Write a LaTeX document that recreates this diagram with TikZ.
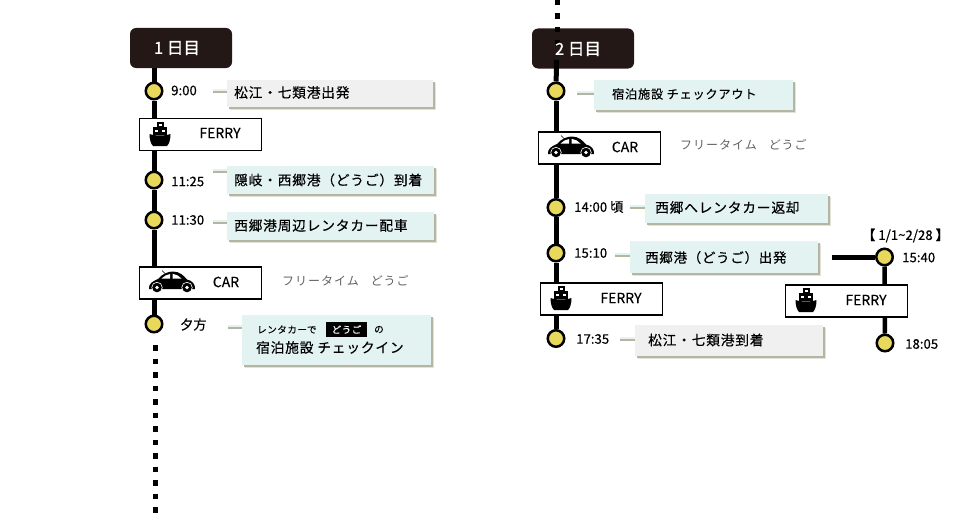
\documentclass[tikz,border=0pt]{standalone}
\usepackage{fontspec}
\setmainfont{Noto Sans CJK JP}
\newfontfamily\jp[LetterSpace=6,FakeBold=0.4]{Noto Sans CJK JP}
\newfontfamily\jpt[FakeBold=0.5]{Noto Sans CJK JP}
\newfontfamily\jph[FakeBold=1.0]{Noto Sans CJK JP}
\newfontfamily\jpr[FakeBold=0.2]{Noto Sans CJK JP}
\newfontfamily\jpg[LetterSpace=8]{Noto Sans CJK JP}
\usetikzlibrary{shadows,backgrounds}
\definecolor{dark}{HTML}{231815}
\definecolor{stop}{HTML}{E8D95C}
\definecolor{mint}{HTML}{E3F3F1}
\definecolor{pale}{HTML}{F0F0F0}
\definecolor{softshade}{HTML}{B4B5A2}
\definecolor{softershade}{HTML}{E2E2DA}
\tikzset{
  x=1pt,y=-1pt,
  daybox/.style={fill=dark,rounded corners=6pt,minimum width=102pt,minimum height=40pt,inner sep=0pt},
  daytext/.style={font=\jph\fontsize{16.5}{16.5}\selectfont,text=white,inner sep=0pt},
  route/.style={line width=5pt,black},
  dots/.style={line width=5pt,black,dash pattern=on 5.5pt off 8pt},
  stopmark/.style={circle,draw=black,line width=2.5pt,fill=stop,minimum size=16.5pt,inner sep=0pt},
  modebox/.style={draw=black,line width=1.1pt,fill=white,minimum width=122pt,minimum height=32pt,inner sep=0pt},
  modetext/.style={font=\jpr\fontsize{14}{14}\selectfont,anchor=center,inner sep=0pt},
  timetext/.style={font=\jpt\fontsize{13.2}{13.2}\selectfont,anchor=west,inner sep=0pt},
  freetext/.style={font=\jpg\fontsize{12}{12}\selectfont,text=black!62,anchor=west,inner sep=0pt},
  card/.style={inner sep=0pt,
    general shadow={shadow xshift=2.5pt,shadow yshift=-3pt,fill=softershade},
    general shadow={shadow xshift=1.5pt,shadow yshift=-1.5pt,fill=softshade}},
  cardtext/.style={font=\jp\fontsize{13.7}{13.7}\selectfont,anchor=west,inner sep=0pt},
  stub/.style={line width=2.5pt},
  stubshade/.style={line width=2.5pt,draw=softshade},
  ship/.pic={
    \fill[black] (-3.5,-13) rectangle (3.5,-7);
    \fill[white] (-1.5,-11.5) rectangle (1.5,-9.5);
    \fill[black] (-7,-8) rectangle (7,0);
    \fill[white] (-5,-5.5) rectangle (-2,-3.5);
    \fill[white] (2,-5.5) rectangle (5,-3.5);
    \fill[black] (-10.5,-1) .. controls (-5,1) and (5,1) .. (10.5,-1) .. controls (10.5,5) and (9,9) .. (7,11) -- (-7,11) .. controls (-9,9) and (-10.5,5) .. (-10.5,-1) -- cycle;
  },
  car/.pic={
    \fill[black] (-23,8) .. controls (-23.5,3) and (-20,0.5) .. (-14,-2) .. controls (-10,-7) and (-4,-9.5) .. (1,-9.5) .. controls (8,-9.5) and (12,-5) .. (15,-1.5) .. controls (20,-0.5) and (23.5,3) .. (23,8) -- cycle;
    \draw[black,line width=.5pt] (-10,-10.5) -- (-7,-7.5);
    \fill[white] (-10.5,-2.5) .. controls (-8,-5) and (-5,-6.5) .. (-2,-7) -- (-2,-2.5) -- cycle;
    \fill[white] (0.5,-7.2) .. controls (4,-7) and (7,-5) .. (9.5,-2.5) -- (0.5,-2.5) -- cycle;
    \fill[white] (-15,6.5) circle (5.6);
    \fill[white] (15,6.5) circle (5.6);
    \fill[black] (-15,6.5) circle (4.8);
    \fill[white] (-15,6.5) circle (1.9);
    \fill[black] (15,6.5) circle (4.8);
    \fill[white] (15,6.5) circle (1.9);
  }
}
\begin{document}
\begin{tikzpicture}
\useasboundingbox (0,0) rectangle (960,519);
% Free ends
\coordinate (d1end) at (155,519);
\coordinate (d1dot) at (155,345);
\coordinate (d2start) at (557,0);
\coordinate (d2dot) at (557,46);
\coordinate (d2in) at (556.5,60);
\coordinate (brstart) at (832,257);
\coordinate (s1a) at (213,90);
\coordinate (s1b) at (213,170);
\coordinate (s1c) at (213,221);
\coordinate (s1d) at (228,326);
\coordinate (s2a) at (577,92);
\coordinate (s2b) at (630,206);
\coordinate (s2c) at (615,254);
\coordinate (s2d) at (620,338);

% Day headers
\node[daybox] (day1) at (181,48) {};
\node[daytext] (day1t) at (177,48) {1 日目};
\node[daytext] (day2t) at (578,49) {2 日目};

% Stops
\node[stopmark] (a1) at (154,91) {};
\node[stopmark] (a2) at (154,180) {};
\node[stopmark] (a3) at (154,220) {};
\node[stopmark] (a4) at (154,324) {};
\node[stopmark] (b1) at (556,91) {};
\node[stopmark] (b2) at (556,207.5) {};
\node[stopmark] (b3) at (556,253) {};
\node[stopmark] (b4) at (556,338.5) {};
\node[stopmark] (c1) at (884.5,257) {};
\node[stopmark] (c2) at (885,343) {};

% Routes
\begin{scope}[on background layer]
\node[daybox] (day2) at (583,48.5) {};
\draw[dots] (d2start) -- (d2dot);
\draw[route] (day1.south -| a1) -- (a1);
\draw[route] (a1) -- (a2);
\draw[route] (a2) -- (a3);
\draw[route] (a3) -- (a4);
\draw[dots] (d1dot) -- (d1end);
\draw[route] (d2in) -- (b1);
\draw[route] (b1) -- (b2);
\draw[route] (b2) -- (b3);
\draw[route] (b3) -- (b4);
\draw[route] (brstart) -- (c1);
\draw[line width=4.5pt] (c1) -- (c2);
\end{scope}

% Mode boxes
\node[modebox] (ferry1) at (200.5,134.5) {};
\node[modebox] (car1) at (200.5,283) {};
\node[modebox] (car2) at (599.5,148) {};
\node[modebox] (ferry2) at (601.5,299) {};
\node[modebox] (ferry3) at (846.5,301) {};
\pic at (160,135) {ship};
\pic at (172,281) {car};
\pic at (571,146) {car};
\pic at (561,299) {ship};
\pic at (806,301) {ship};
\node[modetext] (t1) at (220,133) {FERRY};
\node[modetext] (t2) at (226,282) {CAR};
\node[modetext] (t3) at (625,147) {CAR};
\node[modetext] (t4) at (621,298) {FERRY};
\node[modetext] (t5) at (866,300) {FERRY};

% Times
\node[timetext] (ta1) at (171,90.5) {9:00};
\node[timetext] (ta2) at (171,181.5) {11:25};
\node[timetext] (ta3) at (171,220) {11:30};
\node[timetext] (ta4) at (180,324.5) {夕方};
\node[timetext] (tb2) at (574,207) {14:00 頃};
\node[timetext] (tb3) at (574,253) {15:10};
\node[timetext] (tb4) at (576,339) {17:35};
\node[timetext] (tc0) at (862,235.5) {【 1/1\textasciitilde 2/28 】};
\node[timetext] (tc1) at (902,257.5) {15:40};
\node[timetext] (tc2) at (905,344) {18:05};

% Free time notes
\node[freetext] (f1) at (282,280.5) {フリータイム\hspace{12pt}どうご};
\node[freetext] (f2) at (680,145) {フリータイム\hspace{12pt}どうご};

% Cards
\node[card,fill=pale,minimum width=206pt,minimum height=27pt] (k1) at (330,93.5) {};
\node[card,fill=mint,minimum width=207pt,minimum height=28pt] (k2) at (330.5,180) {};
\node[card,fill=mint,minimum width=207pt,minimum height=28pt] (k3) at (330.5,226) {};
\node[card,fill=mint,minimum width=189pt,minimum height=50pt] (k4) at (336.5,340) {};
\node[card,fill=mint,minimum width=199pt,minimum height=30pt] (k5) at (693.5,95) {};
\node[card,fill=mint,minimum width=183pt,minimum height=29pt] (k6) at (736.5,208.5) {};
\node[card,fill=mint,minimum width=188pt,minimum height=32pt] (k7) at (724,257) {};
\node[card,fill=pale,minimum width=188pt,minimum height=31pt] (k8) at (729,340.5) {};

\foreach \s/\k/\c in {s1a/k1/pale,s1b/k2/mint,s1c/k3/mint,s1d/k4/mint,s2a/k5/mint,s2b/k6/mint,s2c/k7/mint,s2d/k8/pale}{
  \draw[stubshade] ([yshift=-1.5pt]\s) -- ([yshift=-1.5pt]\s -| \k.west);
  \draw[stub,draw=\c] (\s) -- (\s -| \k.west);
}

% Card text
\node[cardtext] (x1) at (234,92.5) {松江・七類港出発};
\node[cardtext] (x2) at (234,180) {隠岐・西郷港（どうご）到着};
\node[cardtext] (x3) at (234,225.5) {西郷港周辺レンタカー配車};
\node[font=\jp\fontsize{9.5}{9.5}\selectfont,anchor=west,inner sep=0pt] (x4a) at (257,329.5) {レンタカーで};
\node[fill=black,text=white,font=\jp\fontsize{9.5}{9.5}\selectfont,minimum width=41pt,minimum height=15pt,inner sep=0pt] (x4b) at (346.5,329.5) {どうご};
\node[font=\jp\fontsize{9.5}{9.5}\selectfont,anchor=west,inner sep=0pt] (x4c) at (374,329.5) {の};
\node[cardtext] (x4d) at (256,347.5) {宿泊施設 チェックイン};
\node[cardtext,font=\jp\fontsize{12.2}{12.2}\selectfont] (x5) at (612,94) {宿泊施設 チェックアウト};
\node[cardtext] (x6) at (655,207.5) {西郷へレンタカー返却};
\node[cardtext,font=\jp\fontsize{13.4}{13.4}\selectfont] (x7) at (645,257.5) {西郷港（どうご）出発};
\node[cardtext] (x8) at (648,340) {松江・七類港到着};
\end{tikzpicture}
\end{document}
